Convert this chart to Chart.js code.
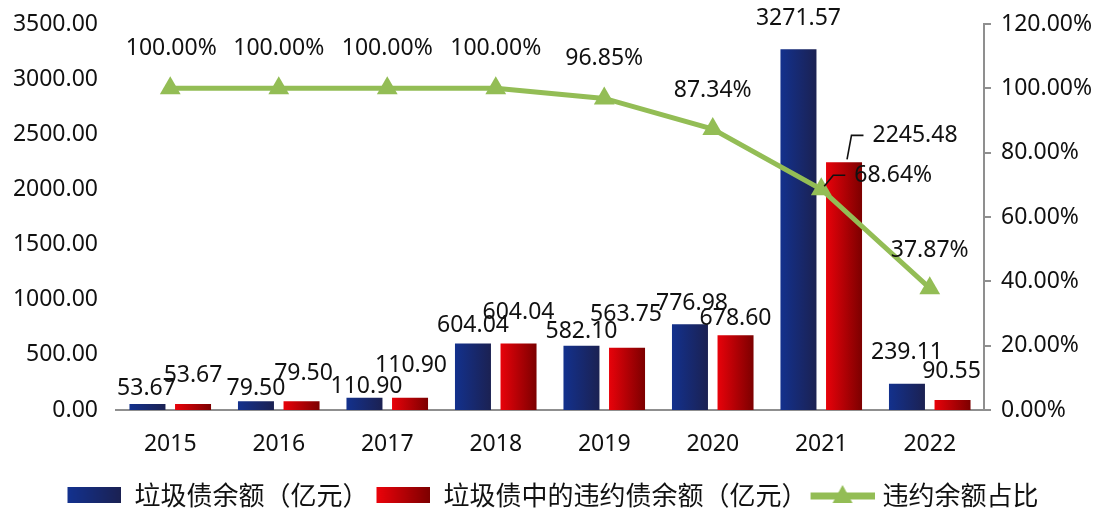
<!DOCTYPE html>
<html>
<head>
<meta charset="utf-8">
<script src="https://cdn.jsdelivr.net/npm/chart.js@4.4.1/dist/chart.umd.min.js"></script>
<style>
  html, body { margin: 0; padding: 0; background: #fff; }
  #wrap { width: 1098px; height: 508px; }
</style>
</head>
<body>
<div id="wrap"><canvas id="junkChart"></canvas></div>
<script>
// data
const years = ["2015", "2016", "2017", "2018", "2019", "2020", "2021", "2022"];
const junkBalance = [53.67, 79.50, 110.90, 604.04, 582.10, 776.98, 3271.57, 239.11];
const defaultBalance = [53.67, 79.50, 110.90, 604.04, 563.75, 678.60, 2245.48, 90.55];
const defaultRatio = [100, 100, 100, 100, 96.85, 87.34, 68.64, 37.87];
const legendNames = ["垃圾债余额（亿元）", "垃圾债中的违约债余额（亿元）", "违约余额占比"];

const leftMax = 3500, leftStep = 500;
const rightMax = 120, rightStep = 20;

// label placement relative to the mark (dx, dy)
const blueShift = [[-1, -16], [0, -13], [2, -11], [0, -18], [0, -14], [2, -21], [0, -31], [0, -31]];
const redShift = [[0, -29], [2, -28], [1, -32], [0, -31], [-1, -33], [0, -17], [71, -27], [-1, -29]];
const ratioShift = [[1, -40], [0, -40], [0, -40], [0, -40], [0, -40], [0, -39], [72, -14], [0, -38]];

const BLUE = ["#13318d", "#1b2152"];
const RED = ["#e8020a", "#7c0000"];
const GREEN = "#93bd55";
const AXIS_GREY = "#8f8f8f";
const CAT_PCT = 0.84;
const BAR_PCT = 0.79;
const numFont = '"Noto Sans", "DejaVu Sans", sans-serif';
const cjkFont = '"Noto Sans CJK SC", "Noto Sans", sans-serif';

function barGradient(colors, side) {
  return (ctx) => {
    const chart = ctx.chart;
    const xs = chart.scales.x;
    if (ctx.type !== "data" || !xs || !chart.chartArea) return colors[0];
    const cat = xs.getPixelForValue(ctx.dataIndex);
    const slot = xs.width / years.length * CAT_PCT / 2;
    const w = slot * BAR_PCT;
    const cx = cat + side * slot / 2;
    const g = chart.ctx.createLinearGradient(cx - w / 2, 0, cx + w / 2, 0);
    g.addColorStop(0, colors[0]);
    g.addColorStop(1, colors[1]);
    return g;
  };
}

function swatch(colors) {
  const cv = document.createElement("canvas");
  cv.width = 62;
  cv.height = 16;
  const g = cv.getContext("2d");
  const grad = g.createLinearGradient(10, 0, 62, 0);
  grad.addColorStop(0, colors[0]);
  grad.addColorStop(1, colors[1]);
  g.fillStyle = grad;
  g.fillRect(8, 0, 54, 16);
  return cv;
}

function lineSwatch() {
  const cv = document.createElement("canvas");
  cv.width = 72;
  cv.height = 22;
  const g = cv.getContext("2d");
  g.strokeStyle = GREEN;
  g.lineWidth = 7;
  g.beginPath();
  g.moveTo(8, 12);
  g.lineTo(72, 12);
  g.stroke();
  g.fillStyle = GREEN;
  g.beginPath();
  g.moveTo(40, 1);
  g.lineTo(50, 19);
  g.lineTo(30, 19);
  g.closePath();
  g.fill();
  return cv;
}

const legendIcons = [swatch(BLUE), swatch(RED), lineSwatch()];

const shifts = [blueShift, redShift, ratioShift];
const formats = [v => v.toFixed(2), v => v.toFixed(2), v => v.toFixed(2) + "%"];

const valueLabels = {
  id: "valueLabels",
  afterDatasetsDraw(chart) {
    const c = chart.ctx;
    c.save();
    c.font = "23px " + numFont;
    c.fillStyle = "#111";
    c.strokeStyle = "#111";
    c.lineWidth = 1.6;
    c.textAlign = "center";
    c.textBaseline = "middle";
    chart.data.datasets.forEach((ds, di) => {
      const meta = chart.getDatasetMeta(di);
      meta.data.forEach((el, i) => {
        const [dx, dy] = shifts[di][i];
        const text = formats[di](ds.data[i]);
        const x = el.x + dx;
        const y = el.y + dy;
        if (dx > 30) {
          // leader line for labels pushed aside
          const left = x - c.measureText(text).width / 2;
          c.beginPath();
          c.moveTo(el.x + 3, el.y - 3);
          c.lineTo(left - 21, y);
          c.lineTo(left - 9, y);
          c.stroke();
        }
        c.fillText(text, x, y);
      });
    });
    c.restore();
  }
};

function fixVertical(width) {
  return (s) => {
    s.width = width;
    s.paddingTop = 0;
    s.paddingBottom = 0;
  };
}

new Chart(document.getElementById("junkChart"), {
  type: "bar",
  data: {
    labels: years,
    datasets: [
      {
        label: legendNames[0],
        data: junkBalance,
        backgroundColor: barGradient(BLUE, -1),
        yAxisID: "y",
        order: 1,
        categoryPercentage: CAT_PCT,
        barPercentage: BAR_PCT
      },
      {
        label: legendNames[1],
        data: defaultBalance,
        backgroundColor: barGradient(RED, 1),
        yAxisID: "y",
        order: 1,
        categoryPercentage: CAT_PCT,
        barPercentage: BAR_PCT
      },
      {
        type: "line",
        label: legendNames[2],
        data: defaultRatio,
        yAxisID: "y1",
        order: 0,
        borderColor: GREEN,
        backgroundColor: GREEN,
        borderWidth: 5,
        tension: 0,
        pointStyle: "triangle",
        pointRadius: 12,
        pointHoverRadius: 12,
        pointBorderWidth: 0,
        pointBackgroundColor: GREEN,
        clip: false
      }
    ]
  },
  options: {
    responsive: true,
    maintainAspectRatio: false,
    animation: false,
    layout: { padding: { top: 24, left: 0, right: 0, bottom: -10 } },
    plugins: {
      tooltip: { enabled: false },
      legend: {
        position: "bottom",
        labels: {
          usePointStyle: true,
          pointStyleWidth: 62,
          boxHeight: 16,
          padding: 0,
          color: "#111",
          font: { family: cjkFont, size: 26 },
          generateLabels: () => legendNames.map((name, i) => ({
            text: name,
            pointStyle: legendIcons[i],
            fillStyle: "transparent",
            strokeStyle: "transparent",
            lineWidth: 0,
            fontColor: "#111",
            hidden: false,
            datasetIndex: i
          }))
        }
      }
    },
    scales: {
      x: {
        afterFit: (s) => { s.height = 72; },
        grid: { display: false, drawTicks: false },
        border: { display: true, color: AXIS_GREY, width: 2 },
        ticks: { color: "#111", padding: 21, font: { family: numFont, size: 23 } }
      },
      y: {
        position: "left",
        min: 0,
        max: leftMax,
        afterFit: fixVertical(116),
        grid: { display: false, drawTicks: false },
        border: { display: false },
        ticks: {
          stepSize: leftStep,
          padding: 18,
          color: "#111",
          font: { family: numFont, size: 23 },
          callback: (v) => Number(v).toFixed(2)
        }
      },
      y1: {
        position: "right",
        min: 0,
        max: rightMax,
        afterFit: fixVertical(114),
        grid: {
          display: true,
          drawOnChartArea: false,
          drawTicks: true,
          tickLength: 7,
          color: AXIS_GREY,
          lineWidth: 2
        },
        border: { display: true, color: AXIS_GREY, width: 2 },
        ticks: {
          stepSize: rightStep,
          padding: 10,
          color: "#111",
          font: { family: numFont, size: 23 },
          callback: (v) => Number(v).toFixed(2) + "%"
        }
      }
    }
  },
  plugins: [valueLabels]
});
</script>
</body>
</html>
